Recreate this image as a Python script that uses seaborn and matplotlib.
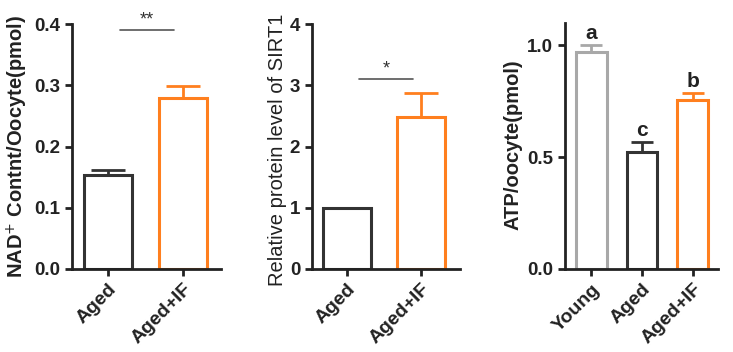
import matplotlib
matplotlib.use("Agg")
import matplotlib.pyplot as plt
import pandas as pd
import seaborn as sns

sns.set_style("ticks")
plt.rcParams['font.family'] = ['Liberation Sans', 'DejaVu Sans']

# data
nad_groups = ['Aged', 'Aged+IF']
nad_mean = [0.153, 0.279]
nad_err = [0.008, 0.020]

sirt_groups = ['Aged', 'Aged+IF']
sirt_mean = [1.0, 2.48]
sirt_err = [0.0, 0.40]

atp_groups = ['Young', 'Aged', 'Aged+IF']
atp_mean = [0.970, 0.522, 0.757]
atp_err = [0.030, 0.045, 0.030]
atp_letters = ['a', 'c', 'b']

DARK = '#333333'
ORANGE = '#FF7F1E'
GRAY = '#A8A8A8'

fig = plt.figure(figsize=(7.33, 3.52), dpi=100)
ax1 = fig.add_axes([0.0982, 0.2358, 0.2033, 0.696])
ax2 = fig.add_axes([0.4256, 0.2358, 0.2019, 0.696])
ax3 = fig.add_axes([0.7708, 0.2358, 0.2087, 0.699])


def draw_panel(ax, groups, mean, err, colors, width, capsize):
    df = pd.DataFrame({'group': groups, 'value': mean})
    sns.barplot(data=df, x='group', y='value', color='white', width=width,
                errorbar=None, ax=ax)
    for patch, c in zip(ax.patches, colors):
        patch.set_facecolor('white')
        patch.set_edgecolor(c)
        patch.set_linewidth(2.2)
    for i, (m, e, c) in enumerate(zip(mean, err, colors)):
        if e > 0:
            ax.errorbar(i, m, yerr=[[0], [e]], color=c, elinewidth=2,
                        capsize=capsize, capthick=2, zorder=1)
    ax.set_xlabel('')
    for s in ['top', 'right']:
        ax.spines[s].set_visible(False)
    for s in ['left', 'bottom']:
        ax.spines[s].set_linewidth(2)
        ax.spines[s].set_color('#222222')
    ax.tick_params(axis='both', width=2, length=5, color='#222222',
                   labelsize=13.5)
    ax.set_xticks(range(len(groups)))
    ax.set_xticklabels(groups, rotation=45, ha='right', rotation_mode='anchor',
                       fontsize=14, fontweight='bold', color='#222222')


# panel 1: NAD+
draw_panel(ax1, nad_groups, nad_mean, nad_err, [DARK, ORANGE], 0.65, 12)
ax1.set_xlim(-0.48, 1.507)
ax1.set_ylim(0, 0.4)
ax1.set_yticks([0.0, 0.1, 0.2, 0.3, 0.4])
ax1.set_yticklabels(['0.0', '0.1', '0.2', '0.3', '0.4'], fontweight='bold',
                    color='#222222')
ax1.set_ylabel('NAD$^{+}$ Contnt/Oocyte(pmol)', fontsize=14.5,
               fontweight='bold', color='#222222')
ax1.yaxis.set_label_coords(-0.285, 0.5)
ax1.plot([0.16, 0.88], [0.39, 0.39], color='#555555', lw=1.2)
ax1.text(0.52, 0.392, '**', ha='center', va='bottom', fontsize=13,
         color='#333333')

# panel 2: SIRT1
draw_panel(ax2, sirt_groups, sirt_mean, sirt_err, [DARK, ORANGE], 0.64, 12)
ax2.set_xlim(-0.47, 1.52)
ax2.set_ylim(0, 4)
ax2.set_yticks([0, 1, 2, 3, 4])
ax2.set_yticklabels(['0', '1', '2', '3', '4'], fontweight='bold',
                    color='#222222')
ax2.set_ylabel('Relative protein level of SIRT1', fontsize=14.5,
               color='#222222')
ax2.yaxis.set_label_coords(-0.17, 0.486)
ax2.plot([0.16, 0.89], [3.1, 3.1], color='#555555', lw=1.2)
ax2.text(0.525, 3.12, '*', ha='center', va='bottom', fontsize=13,
         color='#333333')

# panel 3: ATP
draw_panel(ax3, atp_groups, atp_mean, atp_err, [GRAY, DARK, ORANGE], 0.61, 8)
ax3.set_xlim(-0.52, 2.5)
ax3.set_ylim(0, 1.1)
ax3.set_yticks([0.0, 0.5, 1.0])
ax3.set_yticklabels(['0.0', '0.5', '1.0'], fontweight='bold',
                    color='#222222')
ax3.set_ylabel('ATP/oocyte(pmol)', fontsize=14.5, fontweight='bold',
               color='#222222')
ax3.yaxis.set_label_coords(-0.28, 0.504)
for i, (m, e, t) in enumerate(zip(atp_mean, atp_err, atp_letters)):
    ax3.text(i, m + e + 0.01, t, ha='center', va='bottom', fontsize=15,
             fontweight='bold', color='#222222')

fig.savefig('out.png', dpi=100)
